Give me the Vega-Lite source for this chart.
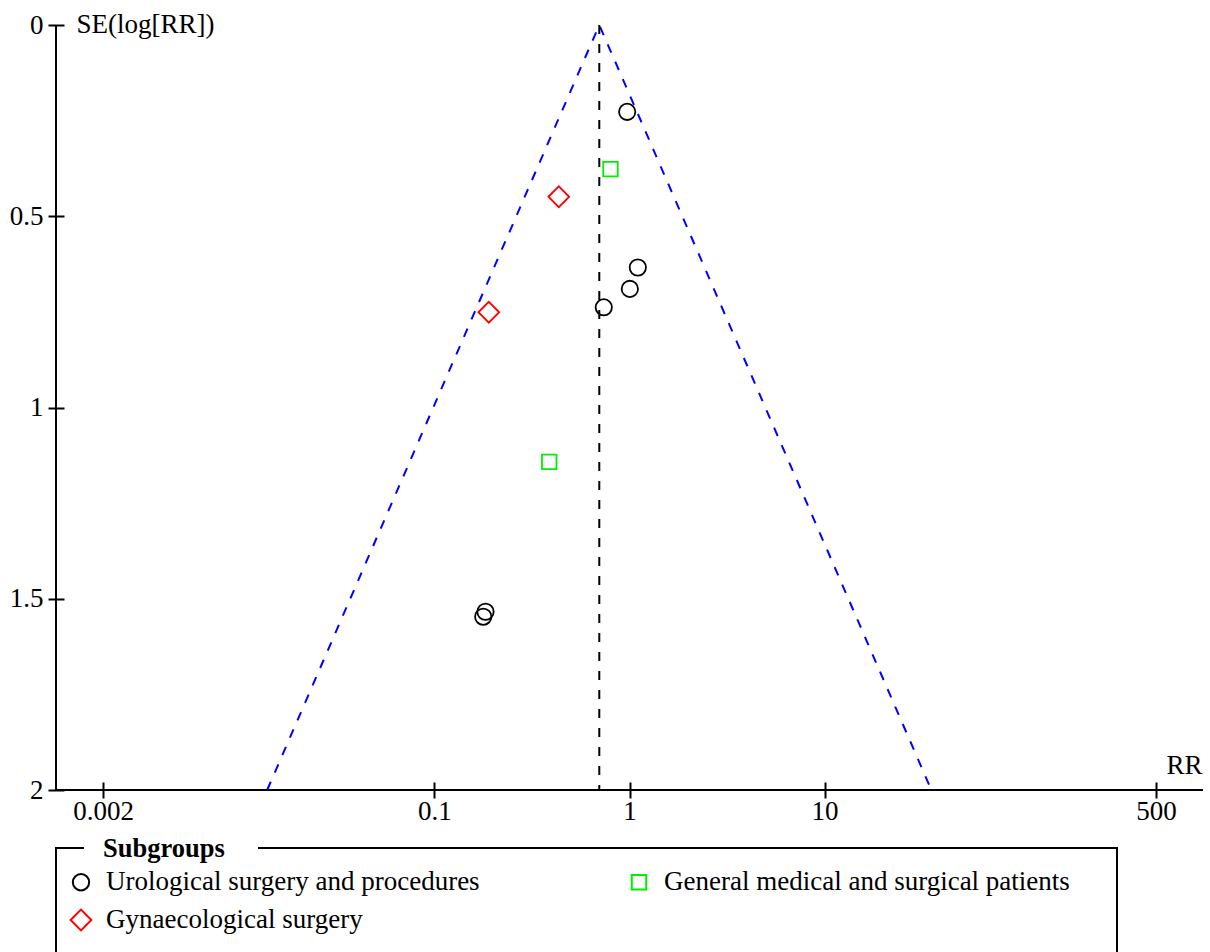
{
  "$schema": "https://vega.github.io/schema/vega-lite/v6.json",
  "width": 1147,
  "height": 765,
  "autosize": {"type": "none"},
  "padding": {"left": 56, "top": 25, "right": 7, "bottom": 162},
  "background": "white",
  "config": {
    "font": "Liberation Serif",
    "view": {"stroke": "black", "strokeWidth": 2, "strokeDash": [0, 1912, 1912]},
    "legend": {"strokeWidth": 2, "strokeDash": [28, 174, 5000]}
  },
  "datasets": {
    "studies": [
      {"group": "Urological surgery and procedures", "rr": 0.973, "se": 0.227},
      {"group": "Urological surgery and procedures", "rr": 1.103, "se": 0.634},
      {"group": "Urological surgery and procedures", "rr": 1.004, "se": 0.690},
      {"group": "Urological surgery and procedures", "rr": 0.738, "se": 0.738},
      {"group": "Urological surgery and procedures", "rr": 0.1827, "se": 1.534},
      {"group": "Urological surgery and procedures", "rr": 0.1779, "se": 1.547},
      {"group": "General medical and surgical patients", "rr": 0.799, "se": 0.377},
      {"group": "General medical and surgical patients", "rr": 0.3877, "se": 1.142},
      {"group": "Gynaecological surgery", "rr": 0.434, "se": 0.449},
      {"group": "Gynaecological surgery", "rr": 0.190, "se": 0.751}
    ],
    "funnel": [
      {"rr": 0.01389, "se": 2},
      {"rr": 0.70, "se": 0},
      {"rr": 35.28, "se": 2}
    ],
    "pooled": [
      {"rr": 0.70, "se": 0, "se2": 2}
    ]
  },
  "encoding": {
    "x": {
      "field": "rr",
      "type": "quantitative",
      "scale": {"type": "log", "domain": [0.001148, 871], "nice": false},
      "axis": {
        "values": [0.002, 0.1, 1, 10, 500],
        "format": "~g",
        "domain": false,
        "grid": false,
        "offset": -8,
        "tickSize": 16,
        "tickWidth": 2,
        "tickColor": "black",
        "labelFontSize": 27,
        "labelColor": "black",
        "labelPadding": 0,
        "labelFlush": false,
        "labelOverlap": false,
        "title": "RR",
        "titleFontSize": 27,
        "titleFontWeight": "normal",
        "titleColor": "black",
        "titleX": 1146,
        "titleY": -9,
        "titleAlign": "right",
        "titleBaseline": "alphabetic"
      }
    },
    "y": {
      "field": "se",
      "type": "quantitative",
      "scale": {"domain": [0, 2], "reverse": true, "nice": false, "zero": false},
      "axis": {
        "values": [0, 0.5, 1, 1.5, 2],
        "format": "~g",
        "domain": false,
        "grid": false,
        "offset": -8,
        "tickSize": 16,
        "tickWidth": 2,
        "tickColor": "black",
        "labelFontSize": 27,
        "labelColor": "black",
        "labelPadding": 5,
        "labelFlush": false,
        "labelOverlap": false,
        "title": "SE(log[RR])",
        "titleFontSize": 27,
        "titleFontWeight": "normal",
        "titleColor": "black",
        "titleAngle": 0,
        "titleX": 12,
        "titleY": 7,
        "titleAlign": "left",
        "titleBaseline": "alphabetic"
      }
    }
  },
  "layer": [
    {
      "data": {"name": "funnel"},
      "mark": {"type": "line", "color": "#0000ff", "strokeWidth": 2, "strokeDash": [9, 10]},
      "encoding": {}
    },
    {
      "data": {"name": "pooled"},
      "mark": {"type": "rule", "color": "black", "strokeWidth": 2, "strokeDash": [9, 10]},
      "encoding": {"y2": {"field": "se2"}}
    },
    {
      "data": {"name": "studies"},
      "mark": {"type": "point", "filled": false, "strokeWidth": 1.8, "opacity": 1},
      "encoding": {
        "color": {
          "field": "group",
          "type": "nominal",
          "scale": {
            "domain": ["Urological surgery and procedures", "General medical and surgical patients", "Gynaecological surgery"],
            "range": ["#000000", "#00ee00", "#ff0000"]
          },
          "legend": {
            "title": "Subgroups",
            "orient": "none",
            "legendX": 0,
            "legendY": 823,
            "direction": "horizontal",
            "columns": 2,
            "padding": 47,
            "strokeColor": "black",
            "titleFontSize": 26.5,
            "titleFontWeight": "bold",
            "titleColor": "black",
            "titleBaseline": "line-bottom",
            "titleLineHeight": 92,
            "titlePadding": -53,
            "titleAnchor": "start",
            "titleAlign": "left",
            "labelFontSize": 27,
            "labelColor": "black",
            "labelOffset": 11.5,
            "labelLimit": 1000,
            "symbolOffset": -35.5,
            "symbolStrokeWidth": 2,
            "rowPadding": 10,
            "columnPadding": 147
          }
        },
        "shape": {
          "field": "group",
          "type": "nominal",
          "scale": {
            "domain": ["Urological surgery and procedures", "General medical and surgical patients", "Gynaecological surgery"],
            "range": ["circle", "square", "diamond"]
          },
          "legend": {
            "title": "Subgroups",
            "orient": "none",
            "legendX": 0,
            "legendY": 823,
            "direction": "horizontal",
            "columns": 2,
            "padding": 47,
            "strokeColor": "black",
            "titleFontSize": 26.5,
            "titleFontWeight": "bold",
            "titleColor": "black",
            "titleBaseline": "line-bottom",
            "titleLineHeight": 92,
            "titlePadding": -53,
            "titleAnchor": "start",
            "titleAlign": "left",
            "labelFontSize": 27,
            "labelColor": "black",
            "labelOffset": 11.5,
            "labelLimit": 1000,
            "symbolOffset": -35.5,
            "symbolStrokeWidth": 2,
            "rowPadding": 10,
            "columnPadding": 147
          }
        },
        "size": {
          "field": "group",
          "type": "nominal",
          "scale": {
            "type": "ordinal",
            "domain": ["Urological surgery and procedures", "General medical and surgical patients", "Gynaecological surgery"],
            "range": [266, 210, 430]
          },
          "legend": null
        }
      }
    }
  ]
}
